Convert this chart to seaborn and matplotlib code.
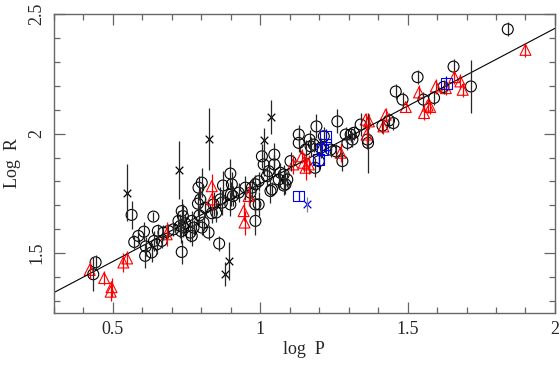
import matplotlib
matplotlib.use("Agg")
import matplotlib.pyplot as plt
import seaborn as sns
import pandas as pd
from matplotlib.ticker import MultipleLocator

# black open circles: log P, log R, error
circ_x = [0.442, 0.434, 0.564, 0.573, 0.587, 0.606, 0.612, 0.610, 0.632, 0.638,
          0.640, 0.649, 0.653, 0.672, 0.666, 0.689, 0.706, 0.723, 0.729, 0.739,
          0.732, 0.746, 0.734, 0.738, 0.734, 0.763, 0.774, 0.768, 0.789, 0.794,
          0.802, 0.808, 0.825, 0.836, 0.842, 0.851, 0.861, 0.870, 0.899, 0.901,
          0.927, 0.984, 0.995, 1.035, 0.802, 0.791, 0.899, 0.904, 0.874, 0.865,
          0.814, 0.797, 0.768, 1.131, 1.131, 1.006, 1.048, 1.012, 1.048, 1.029,
          1.069, 1.063, 1.092, 0.995, 0.984, 0.972, 1.040, 1.080, 0.908, 1.191,
          1.262, 1.341, 1.168, 1.171, 1.182, 1.216, 1.239, 1.256, 1.290, 1.307,
          1.313, 1.296, 1.318, 1.364, 1.366, 1.279, 1.186, 1.103, 1.080, 1.086,
          1.205, 1.199, 1.154, 1.023, 0.950, 0.967, 0.984, 1.460, 1.483, 1.534,
          1.554, 1.590, 1.622, 1.656, 1.715, 1.840, 1.415, 1.452, 1.437]
circ_y = [1.462, 1.412, 1.660, 1.547, 1.572, 1.590, 1.528, 1.489, 1.503, 1.653,
          1.551, 1.537, 1.593, 1.586, 1.551, 1.593, 1.600, 1.635, 1.614, 1.608,
          1.592, 1.625, 1.676, 1.655, 1.505, 1.586, 1.607, 1.572, 1.707, 1.658,
          1.607, 1.628, 1.586, 1.667, 1.704, 1.670, 1.540, 1.711, 1.704, 1.746,
          1.753, 1.635, 1.704, 1.760, 1.795, 1.774, 1.833, 1.788, 1.783, 1.725,
          1.690, 1.725, 1.635, 1.996, 1.961, 1.905, 1.912, 1.871, 1.871, 1.843,
          1.836, 1.808, 1.808, 1.801, 1.788, 1.774, 1.767, 1.783, 1.739, 2.030,
          2.051, 2.038, 1.975, 1.947, 1.954, 1.989, 1.933, 1.926, 1.996, 1.996,
          1.975, 1.961, 2.003, 1.975, 1.961, 1.885, 1.857, 1.885, 1.829, 1.788,
          1.940, 1.885, 1.933, 1.822, 1.774, 1.753, 1.704, 2.176, 2.142, 2.236,
          2.142, 2.149, 2.195, 2.280, 2.197, 2.436, 2.033, 2.044, 2.055]
circ_e = [0.03, 0.07, 0.06, 0.03, 0.03, 0.04, 0.04, 0.05, 0.04, 0.02,
          0.04, 0.04, 0.03, 0.03, 0.03, 0.03, 0.03, 0.04, 0.05, 0.04,
          0.05, 0.04, 0.05, 0.05, 0.05, 0.04, 0.03, 0.04, 0.05, 0.04,
          0.03, 0.03, 0.03, 0.04, 0.05, 0.04, 0.03, 0.05, 0.05, 0.05,
          0.04, 0.06, 0.05, 0.05, 0.06, 0.05, 0.06, 0.05, 0.06, 0.05,
          0.04, 0.05, 0.04, 0.04, 0.04, 0.05, 0.05, 0.05, 0.04, 0.04,
          0.04, 0.04, 0.03, 0.04, 0.04, 0.04, 0.03, 0.04, 0.04, 0.05,
          0.05, 0.05, 0.04, 0.04, 0.03, 0.04, 0.03, 0.03, 0.03, 0.03,
          0.03, 0.03, 0.03, 0.04, 0.125, 0.04, 0.04, 0.04, 0.04, 0.04,
          0.04, 0.04, 0.04, 0.04, 0.05, 0.04, 0.04, 0.03, 0.03, 0.03,
          0.03, 0.03, 0.03, 0.03, 0.11, 0.03, 0.03, 0.03, 0.03]

# red open triangles
tri_x = [0.422, 0.471, 0.496, 0.493, 0.536, 0.549, 0.683, 0.836, 0.836, 0.944,
         0.947, 0.961, 1.112, 1.142, 1.148, 1.154, 1.165, 1.273, 1.358, 1.369,
         1.361, 1.539, 1.596, 1.494, 1.556, 1.568, 1.577, 1.630, 1.659, 1.679,
         1.687, 1.900, 1.426, 1.418]
tri_y = [1.430, 1.396, 1.358, 1.339, 1.461, 1.478, 1.579, 1.780, 1.725, 1.676,
         1.628, 1.739, 1.871, 1.905, 1.878, 1.857, 1.871, 1.920, 2.058, 2.051,
         1.996, 2.172, 2.197, 2.111, 2.086, 2.117, 2.111, 2.190, 2.236, 2.218,
         2.183, 2.350, 2.079, 2.030]
tri_e = [0.04, 0.03, 0.04, 0.04, 0.04, 0.03, 0.05, 0.05, 0.04, 0.04,
         0.05, 0.04, 0.04, 0.03, 0.04, 0.05, 0.04, 0.04, 0.03, 0.03,
         0.04, 0.03, 0.03, 0.02, 0.03, 0.03, 0.03, 0.03, 0.03, 0.03,
         0.03, 0.03, 0.03, 0.03]

# blue open squares
sq_x = [1.222, 1.222, 1.211, 1.199, 1.131, 1.632]
sq_y = [1.989, 1.954, 1.933, 1.892, 1.739, 2.211]
sq_e = [0.03, 0.03, 0.03, 0.03, 0.02, 0.03]

# black crosses
cx_x = [0.548, 0.726, 0.828, 1.038, 1.012, 0.882, 0.896]
cx_y = [1.753, 1.847, 1.979, 2.070, 1.975, 1.412, 1.468]
cx_e = [0.12, 0.12, 0.13, 0.07, 0.05, 0.05, 0.08]

# blue cross
bx_x = [1.160]
bx_y = [1.704]
bx_e = [0.03]

# fit line log R = a + b log P
fit_a, fit_b = 1.14, 0.65
fit_x = [0.3, 2.0]

sns.set_style("ticks")
plt.rcParams["font.family"] = ["Liberation Serif", "DejaVu Serif"]

fig, ax = plt.subplots(figsize=(5.6, 3.78), dpi=100)
fig.subplots_adjust(left=0.096, right=0.991, top=0.963, bottom=0.172)

line_df = pd.DataFrame({"x": fit_x, "y": [fit_a + fit_b * v for v in fit_x]})
sns.lineplot(data=line_df, x="x", y="y", color="black", lw=0.8, ax=ax)

groups = [
    (circ_x, circ_y, circ_e, "o", "black", "0.15"),
    (tri_x, tri_y, tri_e, "^", "red", "red"),
    (sq_x, sq_y, sq_e, "s", "blue", "blue"),
    (cx_x, cx_y, cx_e, "x", "black", "0.15"),
    (bx_x, bx_y, bx_e, "x", "blue", "0.5"),
]
for gx, gy, ge, mk, col, ecol in groups:
    ax.errorbar(gx, gy, yerr=ge, fmt="none", ecolor=ecol, elinewidth=0.9, capsize=0)
    df = pd.DataFrame({"x": gx, "y": gy})
    if mk == "x":
        sns.scatterplot(data=df, x="x", y="y", marker="x", color=col, s=30,
                        linewidth=0.9, ax=ax)
    else:
        sns.scatterplot(data=df, x="x", y="y", marker=mk, facecolor="none",
                        edgecolor=col, s=62, linewidth=0.8, ax=ax)

ax.set_xlim(0.3, 2.0)
ax.set_ylim(1.25, 2.5)
ax.set_xticks([0.5, 1, 1.5, 2])
ax.set_xticklabels(["0.5", "1", "1.5", "2"])
ax.set_yticks([1.5, 2, 2.5])
ax.set_yticklabels(["1.5", "2", "2.5"], rotation=90, va="center")
ax.xaxis.set_minor_locator(MultipleLocator(0.1))
ax.yaxis.set_minor_locator(MultipleLocator(0.1))
ax.tick_params(which="both", direction="in", top=True, right=True,
               color="0.4", labelsize=13, width=0.9)
ax.tick_params(which="major", length=8, pad=6)
ax.tick_params(which="minor", length=4)
for sp in ax.spines.values():
    sp.set_color("0.4")
    sp.set_linewidth(1.0)

ax.set_xlabel("log  P", fontsize=13, labelpad=2)
ax.set_ylabel("Log  R", fontsize=13, labelpad=5)

fig.savefig("out.png", dpi=100)
